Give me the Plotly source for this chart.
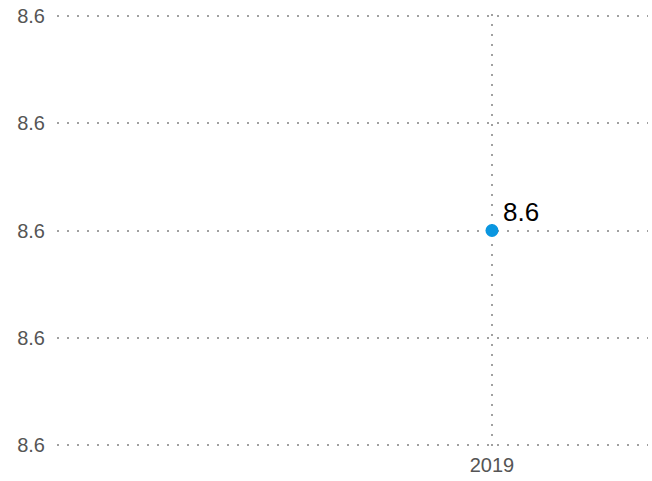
import plotly.graph_objects as go

years = [2019]
values = [8.6]
y_ticks = [8.58, 8.59, 8.60, 8.61, 8.62]

fig = go.Figure()
fig.add_trace(go.Scatter(
    x=years, y=values,
    mode="markers",
    marker=dict(color="#0a96e0", size=13),
    cliponaxis=False,
    showlegend=False,
))
for xv, yv in zip(years, values):
    fig.add_annotation(
        x=xv, y=yv, text=f"{yv:.1f}", showarrow=False,
        xanchor="left", yanchor="middle", xshift=9, yshift=19,
        font=dict(family="Liberation Sans, Arial, sans-serif", size=26, color="#000000"),
    )

grid = dict(showgrid=True, gridcolor="#a0a0a0", gridwidth=2, griddash="2px,8px",
            zeroline=False, showline=False, ticklabeloverflow="allow", automargin=False)
fig.update_layout(
    width=652, height=481,
    margin=dict(l=57, r=4, t=14, b=34),
    paper_bgcolor="white", plot_bgcolor="white",
    font=dict(family="Liberation Sans, Arial, sans-serif", size=20, color="#555555"),
    xaxis=dict(range=[2017.528, 2019.528], tickvals=years, ticktext=[str(y) for y in years],
               ticklabelstandoff=4, **grid),
    yaxis=dict(range=[8.579814, 8.620186], tickvals=y_ticks, tickformat=".1f",
               ticklabelstandoff=11, **grid),
)
fig.write_html("out.html",
               config={"displayModeBar": False},
               post_script="document.body.style.margin='0';document.body.style.overflow='hidden';")
